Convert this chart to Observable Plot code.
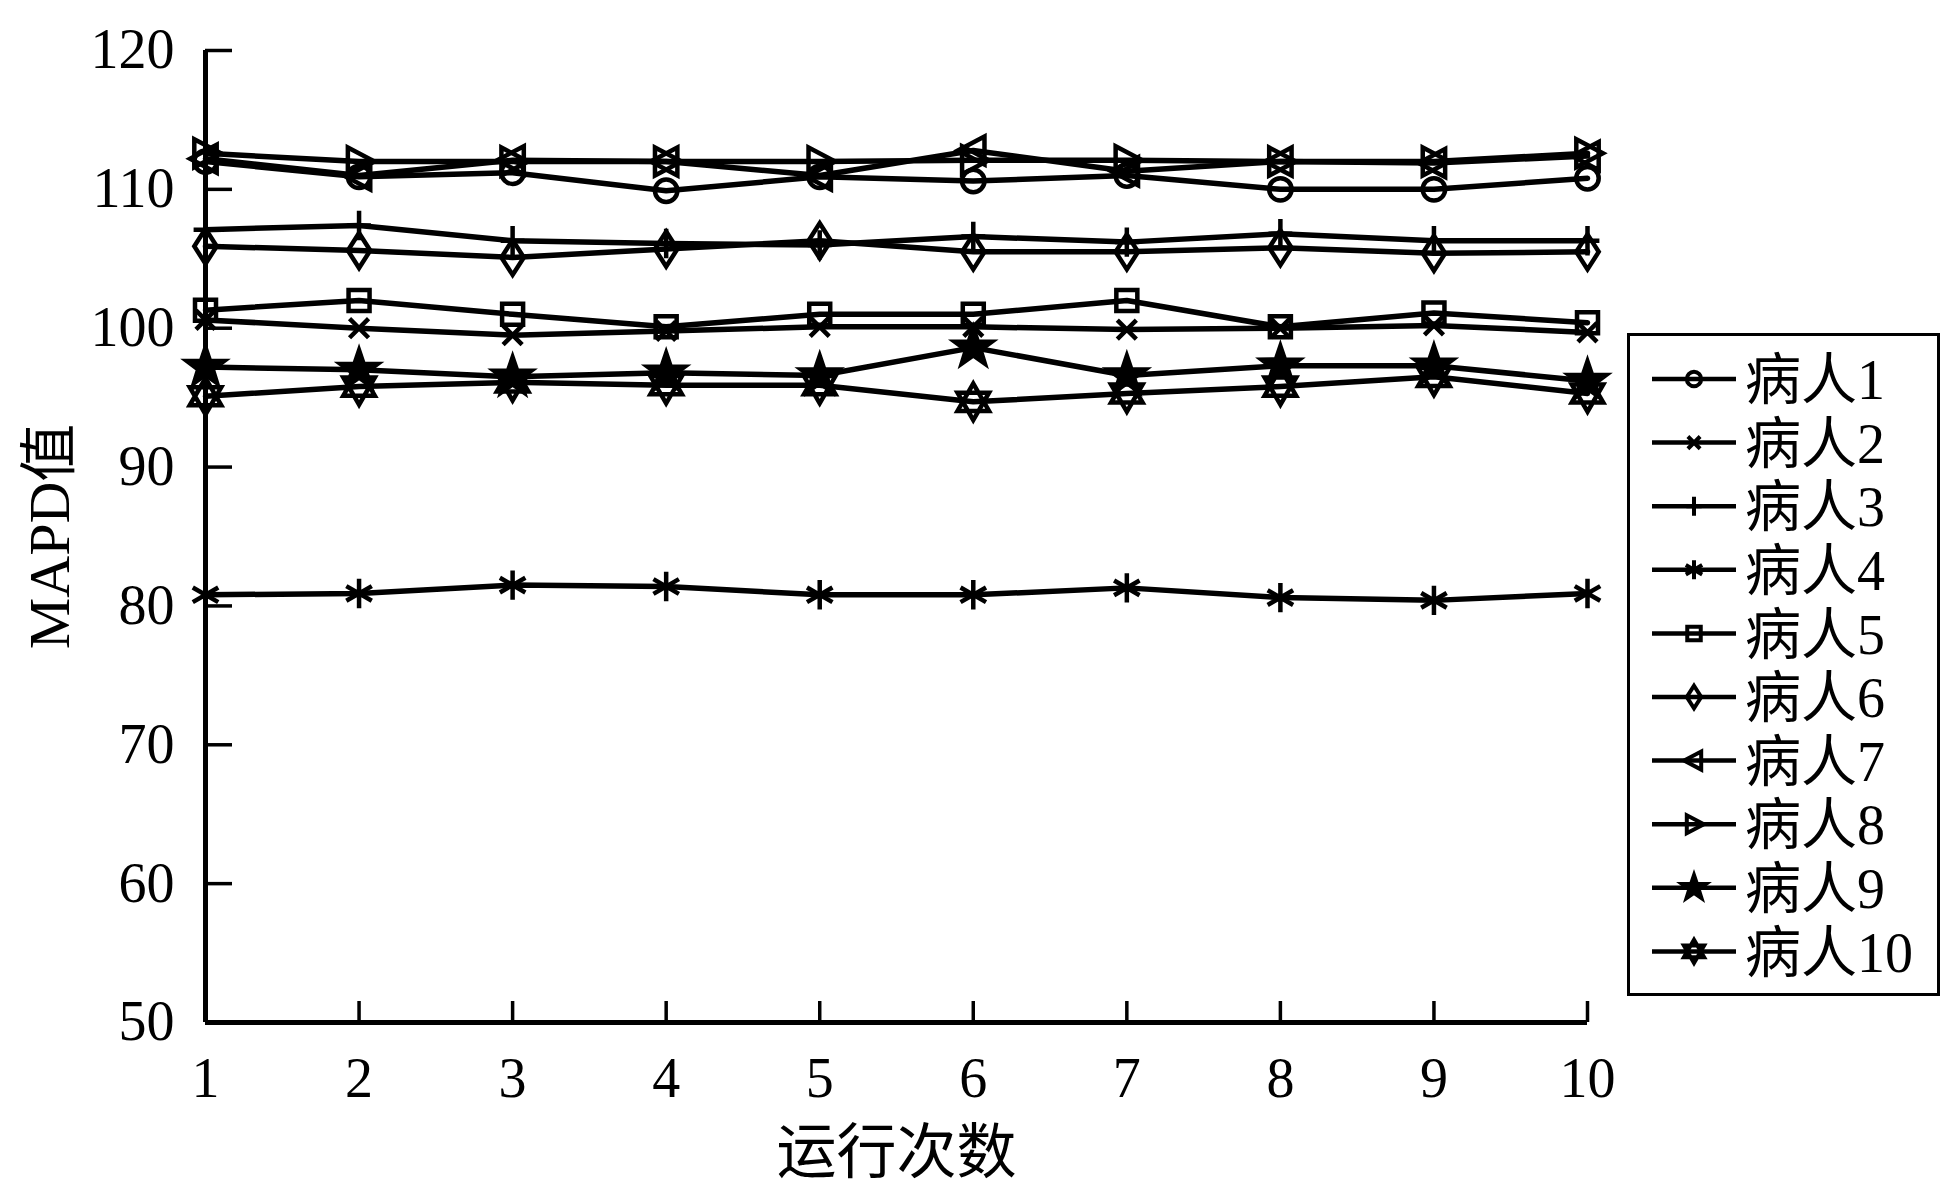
<!DOCTYPE html>
<html>
<head>
<meta charset="utf-8">
<script src="https://cdn.jsdelivr.net/npm/d3@7"></script>
<script src="https://cdn.jsdelivr.net/npm/@observablehq/plot@0.6"></script>
<style>
  html, body { margin: 0; padding: 0; background: #fff; }
  #wrap { position: relative; width: 1947px; height: 1191px; }
  #legend { position: absolute; left: 1627px; top: 333px; width: 313px; height: 663px; box-sizing: border-box; border: 3px solid #000; background: #fff; }
</style>
</head>
<body>
<div id="wrap"><div id="legend"></div></div>
<script>
// ---- data ----
const runs = [1, 2, 3, 4, 5, 6, 7, 8, 9, 10];
const patients = ["病人1", "病人2", "病人3", "病人4", "病人5", "病人6", "病人7", "病人8", "病人9", "病人10"];
const p1 = [112.0, 110.9, 111.2, 109.9, 110.9, 110.6, 111.0, 110.0, 110.0, 110.8];
const p2 = [100.6, 100.0, 99.5, 99.8, 100.1, 100.1, 99.9, 100.0, 100.2, 99.7];
const p3 = [107.1, 107.4, 106.3, 106.1, 106.0, 106.6, 106.2, 106.8, 106.3, 106.3];
const p4 = [80.8, 80.9, 81.5, 81.4, 80.8, 80.8, 81.3, 80.6, 80.4, 80.9];
const p5 = [101.3, 102.0, 101.0, 100.1, 101.0, 101.0, 102.0, 100.1, 101.1, 100.4];
const p6 = [105.9, 105.6, 105.1, 105.7, 106.3, 105.5, 105.5, 105.8, 105.4, 105.5];
const p7 = [112.2, 111.0, 112.1, 112.0, 111.0, 112.8, 111.3, 112.0, 111.9, 112.4];
const p8 = [112.6, 112.0, 112.0, 112.0, 112.0, 112.1, 112.1, 112.0, 112.0, 112.6];
const p9 = [97.2, 97.0, 96.5, 96.8, 96.6, 98.6, 96.6, 97.3, 97.3, 96.2];
const p10 = [95.1, 95.8, 96.1, 95.9, 95.9, 94.7, 95.3, 95.8, 96.5, 95.3];
const series = [p1, p2, p3, p4, p5, p6, p7, p8, p9, p10];
const yTicks = [50, 60, 70, 80, 90, 100, 110, 120];
const xTicks = [1, 2, 3, 4, 5, 6, 7, 8, 9, 10];
const yLabel = "MAPD值";
const xLabel = "运行次数";

// ---- custom marker shapes (MATLAB-like) ----
const R = size => Math.sqrt(size / Math.PI);
const symCircle = {draw(c, size) { const s = R(size) * 0.8; c.moveTo(s, 0); c.arc(0, 0, s, 0, 2 * Math.PI); c.closePath(); }};
const symTimes = {draw(c, size) { const s = R(size) * 0.68; c.moveTo(-s, -s); c.lineTo(s, s); c.moveTo(-s, s); c.lineTo(s, -s); }};
const symPlus = {draw(c, size) { const s = R(size); c.moveTo(0, -1.05 * s); c.lineTo(0, 1.05 * s); c.moveTo(-0.85 * s, 0); c.lineTo(0.85 * s, 0); }};
const symAsterisk = {draw(c, size) { const s = R(size) * 1.05;
  for (const a of [90, 30, 150]) { const t = a * Math.PI / 180; c.moveTo(-s * Math.cos(t), -s * Math.sin(t)); c.lineTo(s * Math.cos(t), s * Math.sin(t)); } }};
const symSquare = {draw(c, size) { const s = R(size) * 0.75; c.moveTo(-s, -s); c.lineTo(s, -s); c.lineTo(s, s); c.lineTo(-s, s); c.closePath(); }};
const symDiamond = {draw(c, size) { const s = R(size); c.moveTo(0, -1.25 * s); c.lineTo(0.8 * s, 0); c.lineTo(0, 1.25 * s); c.lineTo(-0.8 * s, 0); c.closePath(); }};
const symTriLeft = {draw(c, size) { const s = R(size); c.moveTo(-1.1 * s, 0); c.lineTo(0.8 * s, -1.0 * s); c.lineTo(0.8 * s, 1.0 * s); c.closePath(); }};
const symTriRight = {draw(c, size) { const s = R(size); c.moveTo(1.1 * s, 0); c.lineTo(-0.8 * s, -1.0 * s); c.lineTo(-0.8 * s, 1.0 * s); c.closePath(); }};
const symStar = {draw(c, size) { const s = R(size); const ro = 1.4 * s, ri = 0.55 * s;
  for (let i = 0; i < 10; i++) { const r = i % 2 ? ri : ro; const t = -Math.PI / 2 + i * Math.PI / 5; const x = r * Math.cos(t), y = r * Math.sin(t); i ? c.lineTo(x, y) : c.moveTo(x, y); } c.closePath(); }};
const symHexagram = {draw(c, size) { const s = R(size) * 1.3;
  for (const off of [-Math.PI / 2, Math.PI / 2]) { for (let i = 0; i < 3; i++) { const t = off + i * 2 * Math.PI / 3; const x = s * Math.cos(t), y = s * Math.sin(t); i ? c.lineTo(x, y) : c.moveTo(x, y); } c.closePath(); } }};

const symbols = [symCircle, symTimes, symPlus, symAsterisk, symSquare, symDiamond, symTriLeft, symTriRight, symStar, symHexagram];
const filled = [false, false, false, false, false, false, false, false, true, false];

const rows = patients.flatMap((p, i) => runs.map((r, j) => ({patient: p, idx: i, run: r, value: series[i][j]})));

const marks = [];
patients.forEach((p, i) => {
  const d = rows.filter(r => r.idx === i);
  marks.push(Plot.line(d, {x: "run", y: "value", stroke: "#000", strokeWidth: 5.5}));
  marks.push(Plot.dot(d, {x: "run", y: "value", symbol: symbols[i], r: 14, stroke: "#000", strokeWidth: 4.5, fill: filled[i] ? "#000" : "none"}));
});

const chart = Plot.plot({
  width: 1947,
  height: 1191,
  marginLeft: 205,
  marginRight: 360,
  marginTop: 50,
  marginBottom: 169,
  style: {fontFamily: "'Liberation Serif', 'Noto Sans CJK SC', serif", fontSize: "55px", color: "#000", background: "#fff"},
  x: {domain: [1, 10]},
  y: {domain: [50, 120]},
  marks: [
    Plot.axisY({ticks: yTicks, tickSize: -27, tickPadding: 58, strokeWidth: 3.5, fontSize: 56, label: null}),
    Plot.axisX({ticks: xTicks, tickSize: -21, tickPadding: 56, strokeWidth: 3.5, fontSize: 56, label: null}),
    ...marks,
    Plot.ruleX([1], {strokeWidth: 5}),
    Plot.ruleY([50], {strokeWidth: 5}),
    Plot.text([yLabel], {text: d => d, frameAnchor: "left", textAnchor: "middle", rotate: -90, dx: -155, fontSize: 58}),
    Plot.text([xLabel], {text: d => d, frameAnchor: "bottom", textAnchor: "middle", dy: 150, fontSize: 60})
  ]
});
document.getElementById("wrap").prepend(chart);
chart.style.position = "absolute";
chart.style.left = "0";
chart.style.top = "0";

// ---- legend ----
const lg = d3.select("#legend").append("svg").attr("width", 307).attr("height", 657)
  .style("font-family", "'Liberation Serif', 'Noto Sans CJK SC', serif");
const rowGap = 63.6, y0 = 43;
patients.forEach((p, i) => {
  const g = lg.append("g").attr("transform", `translate(0,${y0 + i * rowGap})`);
  g.append("line").attr("x1", 22).attr("x2", 106).attr("y1", 0).attr("y2", 0).attr("stroke", "#000").attr("stroke-width", 4.5);
  g.append("path").attr("transform", "translate(64,0)")
    .attr("d", d3.symbol(symbols[i], Math.PI * 9 * 9)())
    .attr("stroke", "#000").attr("stroke-width", 4).attr("fill", filled[i] ? "#000" : "none");
  g.append("text").attr("x", 115).attr("y", 0).attr("dy", "0.36em").attr("font-size", 56).text(p);
});
</script>
</body>
</html>
